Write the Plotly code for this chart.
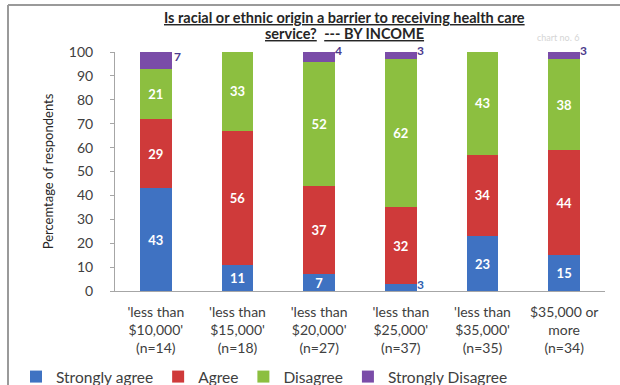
import plotly.graph_objects as go

categories = ["'less than<br>$10,000'<br>(n=14)", "'less than<br>$15,000'<br>(n=18)",
              "'less than<br>$20,000'<br>(n=27)", "'less than<br>$25,000'<br>(n=37)",
              "'less than<br>$35,000'<br>(n=35)", "$35,000 or<br>more<br>(n=34)"]
strongly_agree = [43, 11, 7, 3, 23, 15]
agree = [29, 56, 37, 32, 34, 44]
disagree = [21, 33, 52, 62, 43, 38]
strongly_disagree = [7, 0, 4, 3, 0, 3]
y_ticks = list(range(0, 101, 10))

colors = {"sa": "#3F72C2", "a": "#CF3A3A", "d": "#8CBF40", "sd": "#7A4CA8"}
FONT = "Lato"

W, H = 620, 385
L, R, T, B = 115, 15, 52, 94
PW, PH = W - L - R, H - T - B


def px_x(x):
    return (x - L) / PW


def px_y(y):
    return (H - B - y) / PH


fig = go.Figure()


def inside_text(vals, minv=5):
    return [str(v) if v >= minv else "" for v in vals]


series = [
    ("Strongly agree", strongly_agree, colors["sa"], inside_text(strongly_agree)),
    ("Agree", agree, colors["a"], inside_text(agree)),
    ("Disagree", disagree, colors["d"], inside_text(disagree)),
    ("Strongly Disagree", strongly_disagree, colors["sd"], ["" for _ in strongly_disagree]),
]
for name, vals, col, txt in series:
    fig.add_trace(go.Bar(
        x=categories, y=vals, name=name, marker=dict(color=col, line=dict(width=0)),
        text=txt, textposition="inside", insidetextanchor="middle",
        textfont=dict(color="white", size=13, family=FONT), texttemplate="<b>%{text}</b>",
        textangle=0, cliponaxis=False))

annotations = []
for i, c in enumerate(categories):
    top = strongly_agree[i] + agree[i] + disagree[i] + strongly_disagree[i]
    if 0 < strongly_disagree[i] < 5:
        annotations.append(dict(x=c, y=top, xref="x", yref="y", text=f"<b>{strongly_disagree[i]}</b>",
                                showarrow=False, xanchor="left", yanchor="bottom", xshift=14, yshift=-8,
                                font=dict(color="#4B3A8C", size=12, family=FONT)))
    elif strongly_disagree[i] >= 5:
        annotations.append(dict(x=c, y=top - strongly_disagree[i] / 2, xref="x", yref="y",
                                text=f"<b>{strongly_disagree[i]}</b>",
                                showarrow=False, xanchor="left", yanchor="middle", xshift=16, yshift=4,
                                font=dict(color="#4B3A8C", size=12, family=FONT)))
    if 0 < strongly_agree[i] < 5:
        annotations.append(dict(x=c, y=strongly_agree[i] / 2, xref="x", yref="y",
                                text=f"<b>{strongly_agree[i]}</b>",
                                showarrow=False, xanchor="left", yanchor="middle", xshift=14, yshift=3,
                                font=dict(color="#2F5FAF", size=12, family=FONT)))

annotations.append(dict(x=px_x(558), y=px_y(38), xref="paper", yref="paper", xanchor="center",
                        yanchor="middle", text="chart no. 6", showarrow=False,
                        font=dict(color="#D5D5D5", size=9, family=FONT)))
annotations.append(dict(x=px_x(344), y=px_y(17), xref="paper", yref="paper", xanchor="center",
                        yanchor="middle", showarrow=False,
                        text="<b><u>Is racial or ethnic origin a barrier to receiving health care</u></b>",
                        font=dict(size=14.5, color="#262626", family=FONT)))
annotations.append(dict(x=px_x(344), y=px_y(34), xref="paper", yref="paper", xanchor="center",
                        yanchor="middle", showarrow=False,
                        text="<b><u>service?</u></b>  <b><u>--- BY INCOME</u></b>",
                        font=dict(size=14.5, color="#262626", family=FONT)))

fig.update_layout(
    width=W, height=H,
    margin=dict(l=L, r=R, t=T, b=B, autoexpand=False),
    barmode="stack", bargap=0.61,
    uniformtext=dict(minsize=12, mode="show"),
    paper_bgcolor="white", plot_bgcolor="white",
    font=dict(family=FONT, color="#404040"),
    xaxis=dict(showline=True, linecolor="#A6A6A6", linewidth=1, ticks="", showgrid=False,
               automargin=False, ticklabelstandoff=8,
               tickfont=dict(size=14, color="#404040", family=FONT)),
    yaxis=dict(range=[0, 100], tickvals=y_ticks, showline=True, linecolor="#A6A6A6", linewidth=1,
               ticks="outside", ticklen=4, tickcolor="#A6A6A6", showgrid=False, zeroline=False,
               automargin=False, ticklabelstandoff=14,
               tickfont=dict(size=14, color="#404040", family=FONT),
               title=dict(text="Percemtage of respondents", standoff=12,
                          font=dict(size=13, color="#262626", family=FONT))),
    legend=dict(orientation="h", x=px_x(16), xanchor="left", y=px_y(377), yanchor="middle",
                font=dict(size=15.5, color="#404040", family=FONT), traceorder="normal",
                itemwidth=30, tracegroupgap=0),
    annotations=annotations,
    shapes=[
        dict(type="line", xref="paper", yref="paper", x0=px_x(8), x1=px_x(620),
             y0=px_y(5), y1=px_y(5), line=dict(color="#9A9A9A", width=2)),
        dict(type="line", xref="paper", yref="paper", x0=px_x(8), x1=px_x(8),
             y0=px_y(5), y1=px_y(385), line=dict(color="#9A9A9A", width=2)),
    ],
)

fig.write_html("out.html", config={"displayModeBar": False},
               post_script="document.body.style.margin='0';")
